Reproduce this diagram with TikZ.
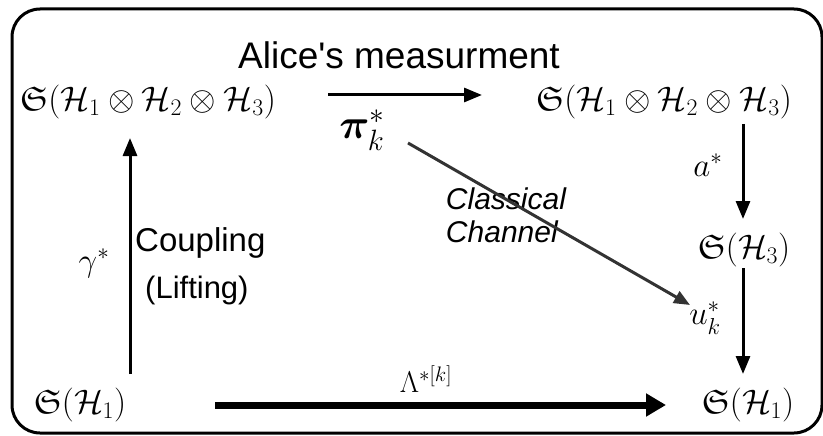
\RequirePackage{fix-cm}
\documentclass[tikz,border=0pt]{standalone}
\usepackage{amsmath,amssymb,bm}
\usepackage{fontspec}
\setmainfont{Liberation Sans}
\usetikzlibrary{arrows.meta}
\tikzset{
  sp/.style={inner sep=0pt, font=\fontsize{34}{40}\selectfont},
  lbl/.style={inner sep=0pt, font=\fontsize{31}{36}\selectfont},
  mlbl/.style={inner sep=0pt, font=\fontsize{33}{38}\selectfont},
  arr/.style={line width=3pt, -{Triangle[length=18pt,width=14pt]}},
  thickarr/.style={line width=7pt, -{Triangle[length=20pt,width=22pt]}},
  diag/.style={line width=3pt, black!80, -{Triangle[length=16pt,width=13pt]}}
}
\begin{document}
\begin{tikzpicture}[x=1pt,y=-1pt]
\useasboundingbox (0,0) rectangle (823,436);
\draw[line width=3pt, rounded corners=28pt] (12,9) rectangle (822,433);
\node[inner sep=0pt, font=\fontsize{37}{44}\selectfont] (title) at (399,55) {Alice\textquotesingle s measurment};
\node[sp] (tl) at (148,102) {$\mathfrak{S}(\mathcal{H}_1\otimes\mathcal{H}_2\otimes\mathcal{H}_3)$};
\node[sp] (tr) at (664,102) {$\mathfrak{S}(\mathcal{H}_1\otimes\mathcal{H}_2\otimes\mathcal{H}_3)$};
\node[sp] (h3) at (744,250) {$\mathfrak{S}(\mathcal{H}_3)$};
\node[sp] (br) at (748,405) {$\mathfrak{S}(\mathcal{H}_1)$};
\node[sp] (bl) at (80,405) {$\mathfrak{S}(\mathcal{H}_1)$};
\node[inner sep=0pt, font=\fontsize{42}{48}\selectfont] (pi) at (362,130) {$\bm{\pi}_k^*$};
\node[mlbl] (astar) at (708,165) {$a^*$};
\node[mlbl] (ustar) at (705,318) {$u_k^*$};
\node[mlbl] (gstar) at (94,263) {$\gamma^*$};
\node[inner sep=0pt, font=\fontsize{30}{36}\selectfont] (lam) at (426,379) {$\Lambda^{*[k]}$};
\node[lbl, font=\fontsize{33}{38}\selectfont, anchor=west] (coup) at (135,243) {Coupling};
\node[lbl, anchor=west] (lift) at (145,290) {(Lifting)};
\node[lbl, align=left, font=\fontsize{30}{33}\selectfont\itshape] (cc) at (506,215) {Classical\\Channel};
\coordinate (a1) at (328,95); \coordinate (a2) at (482,95);
\draw[arr] (a1) -- (a2);
\coordinate (v1) at (743,124); \coordinate (v2) at (743,219);
\draw[arr] (v1) -- (v2);
\coordinate (w1) at (743,268); \coordinate (w2) at (743,374);
\draw[arr] (w1) -- (w2);
\coordinate (g1) at (130,374); \coordinate (g2) at (130,138);
\draw[arr] (g1) -- (g2);
\coordinate (b1) at (215,405); \coordinate (b2) at (666,405);
\draw[thickarr] (b1) -- (b2);
\coordinate (d1) at (408,143); \coordinate (d2) at (690,305);
\draw[diag] (d1) -- (d2);
\end{tikzpicture}
\end{document}
